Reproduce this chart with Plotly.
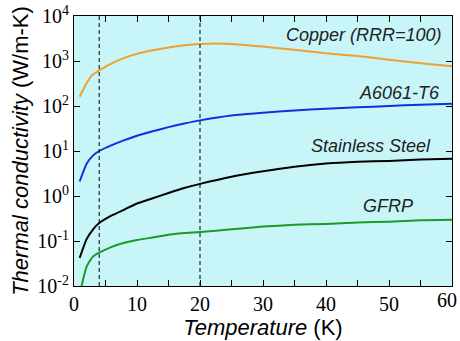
import math
import plotly.graph_objects as go

# Temperature (K)
temp = [2, 3, 4, 6, 8, 10, 12.5, 15, 17.5, 20, 25, 30, 35, 40, 45, 50, 55, 60]

copper_T = [0.9] + temp
copper = [160, 320, 500, 620, 890, 1170, 1450, 1740, 2000, 2240, 2400, 2400, 2090, 1780, 1480, 1290, 1070, 890, 760]

a6061_T = [0.9] + temp
a6061 = [2.1, 5.2, 7.9, 10, 13.5, 17.4, 21.9, 27.5, 33.9, 40.7, 47.9, 61.7, 70.8, 79.4, 87.1, 93.3, 100, 107, 112]

sus_T = [0.9] + temp
sus = [0.042, 0.11, 0.18, 0.25, 0.37, 0.50, 0.68, 0.89, 1.17, 1.51, 1.86, 2.69, 3.55, 4.47, 5.25, 5.75, 6.03, 6.46, 6.76]

gfrp_T = [1.2] + temp
gfrp = [0.010, 0.027, 0.045, 0.055, 0.074, 0.091, 0.105, 0.12, 0.138, 0.151, 0.158, 0.182, 0.209, 0.229, 0.240, 0.257, 0.269, 0.288, 0.295]

names = ["Copper (RRR=100)", "A6061-T6", "Stainless Steel", "GFRP"]
colors = ["#f0a030", "#1030e0", "#000000", "#1a9a2a"]
series_T = [copper_T, a6061_T, sus_T, gfrp_T]
series_k = [copper, a6061, sus, gfrp]

# label anchors (right end) in data coords
label_x = [58.8, 58.4, 57.0, 54.2]
label_y = [10**3.58, 10**2.30, 10**1.11, 10**-0.22]

vlines = [4, 20]

x_ticks = [0, 10, 20, 30, 40, 50, 60]
y_ticks = [1e-2, 1e-1, 1e0, 1e1, 1e2, 1e3, 1e4]
y_tick_text = ["10<sup>-2</sup>", "10<sup>-1</sup>", "10<sup>0</sup>", "10<sup>1</sup>",
               "10<sup>2</sup>", "10<sup>3</sup>", "10<sup>4</sup>"]

tick_font = dict(family="Liberation Serif, Times New Roman", size=20, color="black")
title_font = dict(family="Liberation Sans, Arial", size=22, color="black")

fig = go.Figure()
for T, k, c, n in zip(series_T, series_k, colors, names):
    fig.add_trace(go.Scatter(x=T, y=k, mode="lines", name=n,
                             line=dict(color=c, width=2, shape="spline", smoothing=0.5),
                             showlegend=False))

for v in vlines:
    fig.add_shape(type="line", xref="x", yref="paper", x0=v, x1=v, y0=0, y1=1,
                  line=dict(color="black", width=1, dash="4px,3px"))

for n, lx, ly in zip(names, label_x, label_y):
    fig.add_annotation(x=lx, y=math.log10(ly), text="<i>" + n + "</i>",
                       xanchor="right", yanchor="middle", showarrow=False,
                       font=dict(family="Liberation Sans, Arial", size=18, color="#222222"))

# the last x tick label sits at the page edge; keep it fully inside the page
fig.add_annotation(x=x_ticks[-1], y=0, xref="x", yref="paper", text=str(x_ticks[-1]),
                   xanchor="right", yanchor="top", xshift=7, yshift=-1, showarrow=False,
                   font=tick_font)

fig.update_layout(
    width=460, height=341,
    margin=dict(l=74, r=8, t=16, b=55),
    paper_bgcolor="white",
    plot_bgcolor="#c8f6f8",
    xaxis=dict(range=[0, 60], tickvals=x_ticks[:-1], ticks="inside", ticklen=6,
               tickcolor="black", mirror="ticks", showline=True, linecolor="black",
               linewidth=1, showgrid=False, zeroline=False, automargin=False,
               minor=dict(tickvals=[5, 15, 25, 35, 45, 55, 60], ticks="inside", ticklen=6,
                          tickcolor="black", showgrid=False),
               tickfont=tick_font,
               title=dict(text="<i>Temperature</i> (K)", standoff=2, font=title_font)),
    yaxis=dict(type="log", range=[-2, 4], tickvals=y_ticks, ticktext=y_tick_text,
               ticks="inside", ticklen=6, tickcolor="black", mirror="ticks",
               showline=True, linecolor="black", linewidth=1, showgrid=False, zeroline=False,
               automargin=False,
               tickfont=tick_font,
               title=dict(text="<i>Thermal conductivity</i> (W/m-K)", standoff=2, font=title_font)),
)

fig.write_html("out.html")
